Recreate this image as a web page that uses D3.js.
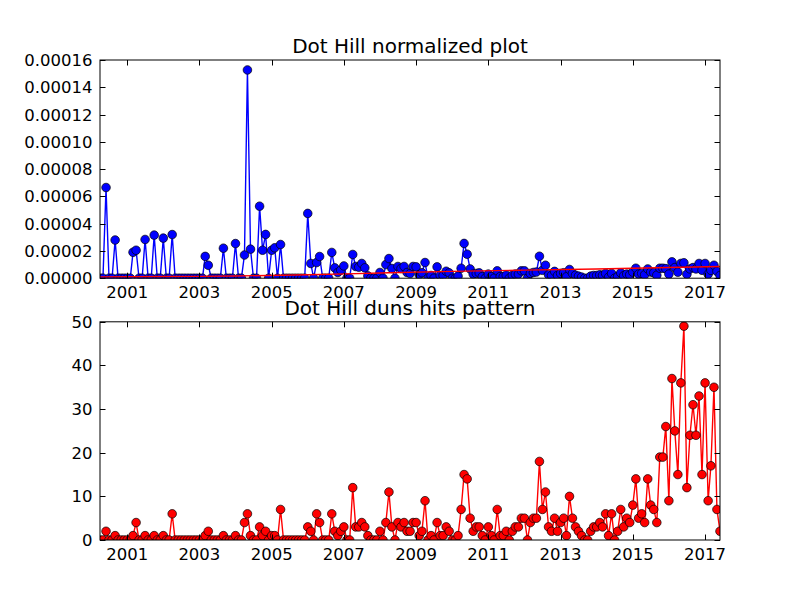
<!DOCTYPE html>
<html>
<head>
<meta charset="utf-8">
<script src="https://cdn.jsdelivr.net/npm/d3@7"></script>
<style>
  html, body { margin: 0; padding: 0; background: #fff; }
  svg { display: block; }
  text { font-family: "DejaVu Sans", sans-serif; }
</style>
</head>
<body>
<svg id="chart" width="800" height="600"></svg>
<script>
// ---- data (monthly, April 2000 .. June 2017) ----
const startMonth = "2000-04";
const endMonth = "2017-06";

// Dun's hits per month (bottom chart)
const hits = [
  0,0,2,0,0,1,0,0,0,0,
  0,1,4,0,0,1,0,0,1,0,
  0,1,0,0,6,0,0,0,0,0,
  0,0,0,0,0,1,2,0,0,0,
  0,1,0,0,0,1,0,0,4,6,
  1,0,0,3,1,2,0,1,1,0,
  7,0,0,0,0,0,0,0,0,3,
  2,0,6,4,0,0,0,6,2,1,
  2,3,0,0,12,3,3,4,3,1,
  0,0,0,2,0,4,11,3,0,4,
  3,4,2,2,4,4,1,2,9,0,
  1,0,4,1,1,3,2,0,0,1,
  7,15,14,5,2,3,3,1,0,3,
  1,0,7,1,1,2,0,2,3,3,
  5,5,0,4,5,5,18,7,11,3,
  2,5,2,4,5,1,10,5,3,2,
  1,0,0,2,3,3,4,3,6,1,
  6,0,2,7,3,5,4,8,14,5,
  6,4,14,8,7,4,19,19,26,9,
  37,25,15,36,49,12,24,31,24,33,
  15,36,9,17,35,7,2
];

// normalized values, in units of 1e-6 (top chart)
const normalized = [
  0,0,66.5,0,0,28,0,0,0,0,
  0,19,20.5,0,0,28.4,0,0,31.6,0,
  0,29.4,0,0,32,0,0,0,0,0,
  0,0,0,0,0,16,9.5,0,0,0,
  0,22,0,0,0,25.4,0,0,17,152.7,
  21.3,0,0,52.8,20.5,32.1,0,20.5,22.3,0,
  24.7,0,0,0,0,0,0,0,0,47.5,
  10.8,0,11.5,15.9,0,0,0,18.9,7.6,4.2,
  5.9,9,0,0,17.4,8.6,8.1,10.8,7.6,1.7,
  0,0,0,4.2,0,10,14.4,7.1,0,8.6,
  7.1,8.6,4.2,3.4,8.6,8.3,2.5,4,11.5,0,
  2,0,8.3,2,2,5.1,3.9,0,0,1.5,
  7.3,25.5,17.6,6.8,3,3.5,3.9,1.2,0,3,
  1.2,0,5.4,1.2,1.2,2.2,0,2.2,3,3,
  5.4,5.4,0,3.5,4.2,4.5,16.1,5.8,9.5,2.5,
  2,5,2,3.5,4,1,6.4,3.5,2.2,1.5,
  0.8,0,0,1.5,2,2,2.5,2,3.5,0.7,
  3.5,0,1.2,3.9,1.8,3,2.5,4.5,7.3,3,
  3.5,2.5,6.8,4.5,4,2.2,7.3,7.3,7,3,
  12,7.8,4.4,10.8,11.3,2.9,6.8,7.8,6.8,10.8,
  5.8,10.8,2.9,5.8,9.5,5,2
];

// red trend line on the normalized chart (read at these dates, units 1e-6)
const trendDates = ["2000-04","2002-01","2004-01","2006-01","2008-01","2010-01","2012-01","2014-01","2016-01","2017-06"];
const trendValues = [1.0, 1.2, 1.6, 2.5, 3.8, 5.0, 5.9, 6.8, 7.8, 8.6];

const titles = ["Dot Hill normalized plot", "Dot Hill duns hits pattern"];
const topTicks = [0, 0.00002, 0.00004, 0.00006, 0.00008, 0.0001, 0.00012, 0.00014, 0.00016];
const bottomTicks = [0, 10, 20, 30, 40, 50];
const xTickYears = [2001, 2003, 2005, 2007, 2009, 2011, 2013, 2015, 2017];

// ---- build ----
const parseM = d3.timeParse("%Y-%m");
const months = d3.timeMonth.range(parseM(startMonth), d3.timeMonth.offset(parseM(endMonth), 1));
const topData = months.map((d, i) => ({ date: d, value: normalized[i] * 1e-6 }));
const botData = months.map((d, i) => ({ date: d, value: hits[i] }));
const trendData = trendDates.map((d, i) => ({ date: parseM(d), value: trendValues[i] * 1e-6 }));

const svg = d3.select("#chart");
const L = 100, R = 720;
const axH = 218.2;
const panels = [
  { top: 60, title: titles[0], data: topData, color: "#0000ff", yDomain: [0, 0.00016], ticks: topTicks, fmt: d3.format(".5f") },
  { top: 540 - axH, title: titles[1], data: botData, color: "#ff0000", yDomain: [0, 50], ticks: bottomTicks, fmt: d3.format("d") }
];

const x = d3.scaleTime().domain([months[0], months[months.length - 1]]).range([L, R]);
const xTicks = xTickYears.map(y => new Date(y, 0, 1));
const tickLen = 5.5;
const fontSize = 16.5;

panels.forEach((p, pi) => {
  const B = p.top + axH;
  const y = d3.scaleLinear().domain(p.yDomain).range([B, p.top]);
  const g = svg.append("g");

  const clipId = "clip" + pi;
  svg.append("clipPath").attr("id", clipId)
    .append("rect").attr("x", L).attr("y", p.top).attr("width", R - L).attr("height", axH);

  const plot = g.append("g").attr("clip-path", `url(#${clipId})`);

  const line = d3.line().x(d => x(d.date)).y(d => y(d.value));
  plot.append("path").datum(p.data)
    .attr("fill", "none").attr("stroke", p.color).attr("stroke-width", 1.4)
    .attr("stroke-linejoin", "round")
    .attr("d", line);
  plot.selectAll("circle.m").data(p.data).enter().append("circle")
    .attr("class", "m")
    .attr("cx", d => x(d.date)).attr("cy", d => y(d.value))
    .attr("r", 4.3)
    .attr("fill", p.color).attr("stroke", "#000").attr("stroke-width", 0.7);

  if (pi === 0) {
    plot.append("path").datum(trendData)
      .attr("fill", "none").attr("stroke", "#ff0000").attr("stroke-width", 1.4)
      .attr("d", d3.line().curve(d3.curveMonotoneX).x(d => x(d.date)).y(d => y(d.value)));
  }

  // frame
  g.append("rect").attr("x", L).attr("y", p.top).attr("width", R - L).attr("height", axH)
    .attr("fill", "none").attr("stroke", "#000").attr("stroke-width", 1);

  // x ticks (inward, bottom and top)
  xTicks.forEach(t => {
    const xx = Math.round(x(t)) + 0.5;
    g.append("line").attr("x1", xx).attr("x2", xx).attr("y1", B).attr("y2", B - tickLen).attr("stroke", "#000");
    g.append("line").attr("x1", xx).attr("x2", xx).attr("y1", p.top).attr("y2", p.top + tickLen).attr("stroke", "#000");
    g.append("text").attr("x", x(t)).attr("y", B + 20).attr("text-anchor", "middle")
      .attr("font-size", fontSize).text(d3.timeFormat("%Y")(t));
  });

  // y ticks (inward, left and right)
  p.ticks.forEach(v => {
    const yy = Math.round(y(v)) + 0.5;
    g.append("line").attr("x1", L).attr("x2", L + tickLen).attr("y1", yy).attr("y2", yy).attr("stroke", "#000");
    g.append("line").attr("x1", R).attr("x2", R - tickLen).attr("y1", yy).attr("y2", yy).attr("stroke", "#000");
    g.append("text").attr("x", L - 7.5).attr("y", y(v) + 6).attr("text-anchor", "end")
      .attr("font-size", fontSize).text(p.fmt(v));
  });

  g.append("text").attr("x", (L + R) / 2).attr("y", p.top - 7).attr("text-anchor", "middle")
    .attr("font-size", 20).text(p.title);
});
</script>
</body>
</html>
